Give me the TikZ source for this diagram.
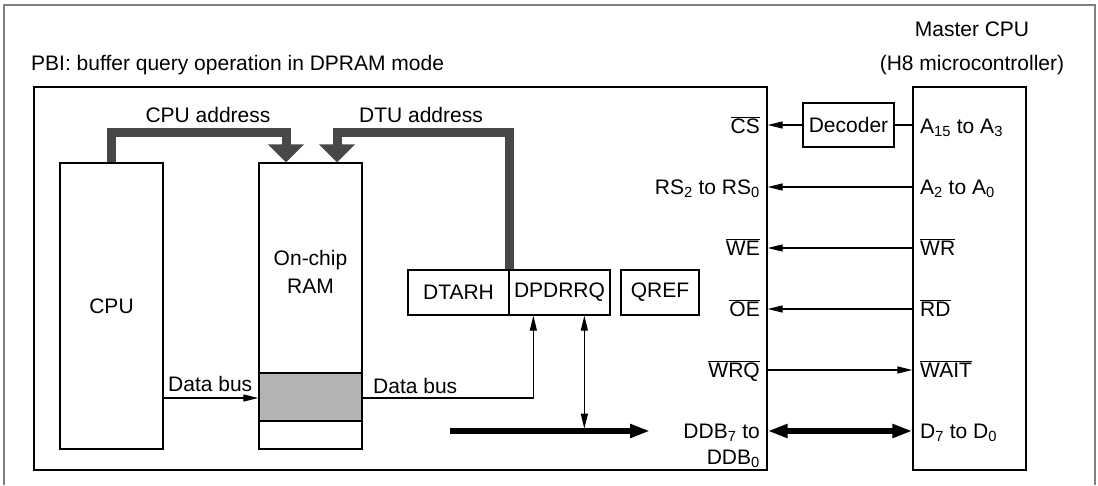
\documentclass[tikz,border=0pt]{standalone}
\usepackage{fontspec}
\setmainfont{Liberation Sans}
\usetikzlibrary{arrows.meta,calc}
\definecolor{pipegray}{RGB}{72,72,72}
\definecolor{ramgray}{RGB}{179,179,179}
\definecolor{framegray}{RGB}{128,128,128}
\newcommand{\ovl}[1]{$\overline{\mbox{#1}}$}

\begin{document}
\begin{tikzpicture}[x=1pt,y=-1pt,font=\fontsize{21}{26}\selectfont,
  blk/.style={draw,line width=1.3pt,inner sep=0pt},
  lbl/.style={inner sep=0pt},
  sig/.style={line width=1.2pt,-{Triangle[length=15pt,width=7pt]}},
  sigtwo/.style={line width=1.2pt,{Triangle[length=15pt,width=7pt]}-{Triangle[length=15pt,width=7pt]}},
  bus/.style={line width=5.5pt,-{Triangle[length=20pt,width=13pt]}},
  bustwo/.style={line width=5.5pt,{Triangle[length=20pt,width=13pt]}-{Triangle[length=20pt,width=13pt]}},
  pipe/.style={pipegray,line width=9pt,line join=miter,-{Triangle[length=18pt,width=35pt]}}]
\useasboundingbox (0,0) rectangle (1098,485);
% Outer frame, open at the bottom
\draw[framegray,line width=1.3pt] (4,485) -- (4,5) -- (1095,5) -- (1095,485);
% Titles
\node[lbl,anchor=base west] (title) at (31,70) {PBI: buffer query operation in DPRAM mode};
\node[lbl,anchor=base] (mname) at (972,36) {Master CPU};
\node[lbl,anchor=base] (mtype) at (972,70) {(H8 microcontroller)};
% Main blocks
\node[blk,minimum width=733,minimum height=383] (pbi) at (400.5,278.5) {};
\node[blk,minimum width=113,minimum height=383] (master) at (969.5,278.5) {};
\node[blk,minimum width=103,minimum height=286] (cpu) at (111.5,306) {CPU};
\draw[fill=ramgray,line width=1.3pt] (259,373) rectangle (362,421);
\node[blk,minimum width=103,minimum height=286] (ram) at (310.5,306) {};
\node[lbl,align=center,font=\fontsize{21}{28}\selectfont] (ramtxt) at (310.5,272) {On-chip\\RAM};
% Registers
\node[blk,minimum width=101,minimum height=45] (dtarh) at (458.5,292.5) {DTARH};
\node[blk,minimum width=101,minimum height=45] (dpdrrq) at (559.5,292.5) {DPDRRQ};
\node[blk,minimum width=78,minimum height=45] (qref) at (660,292.5) {QREF};
\node[blk,minimum width=91,minimum height=44] (dec) at (848.5,125) {Decoder};
% Address pipes
\draw[pipe] (cpu.north) -- ++(0,-29.5) -| ($(ram.north)+(-24.5,0)$);
\draw[pipe] (dtarh.north east) -- ++(0,-136.5) -| ($(ram.north)+(26.5,0)$);
\node[lbl,anchor=base] (cpuadr) at (208,122) {CPU address};
\node[lbl,anchor=base] (dtuadr) at (421,122) {DTU address};
% Internal data buses
\coordinate (yb) at (0,398);
\draw[sig] (cpu.east |- yb) -- (ram.west |- yb);
\draw[sig] (ram.east |- yb) -| ($(dpdrrq.south west)+(25,0)$);
\node[lbl,anchor=base west] (dbl) at (168,391) {Data bus};
\node[lbl,anchor=base west] (dbr) at (373,393) {Data bus};
\coordinate (busL) at (450,431);
\coordinate (busR) at (650,431);
\draw[bus] (busL) -- (busR);
\draw[sigtwo] ($(dpdrrq.south west)+(76,0)$) -- ++(0,113);
% Interface signals
\draw[sig] (dec.west) -- (pbi.east |- dec.west);
\draw[line width=1.2pt] (dec.east) -- (master.west |- dec.east);
\node[lbl,anchor=base east] (cs) at (760,133) {\ovl{CS}};
\node[lbl,anchor=base west] (ahi) at (920,133) {A\textsubscript{15} to A\textsubscript{3}};
\foreach \y/\pin/\mpin [count=\i] in {187/{RS\textsubscript{2} to RS\textsubscript{0}}/{A\textsubscript{2} to A\textsubscript{0}},
    248/{\ovl{WE}}/{\ovl{WR}}, 309/{\ovl{OE}}/{\ovl{RD}}} {
  \coordinate (y\i) at (0,\y);
  \draw[sig] (master.west |- y\i) -- (pbi.east |- y\i);
  \node[lbl,anchor=base east] (p\i) at (760,\y+7.5) {\pin};
  \node[lbl,anchor=base west] (m\i) at (920,\y+7.5) {\mpin};
}
\coordinate (yw) at (0,370);
\draw[sig] (pbi.east |- yw) -- (master.west |- yw);
\node[lbl,anchor=base east] (wrq) at (760,377.5) {\ovl{WRQ}};
\node[lbl,anchor=base west] (wait) at (920,377.5) {\ovl{WAIT}};
\draw[bustwo] (pbi.east |- busL) -- (master.west |- busL);
\node[lbl,anchor=east,align=right,font=\fontsize{21}{26.5}\selectfont] (ddb) at (760,446) {DDB\textsubscript{7} to\\DDB\textsubscript{0}};
\node[lbl,anchor=base west] (dd) at (920,438.5) {D\textsubscript{7} to D\textsubscript{0}};
\end{tikzpicture}
\end{document}
